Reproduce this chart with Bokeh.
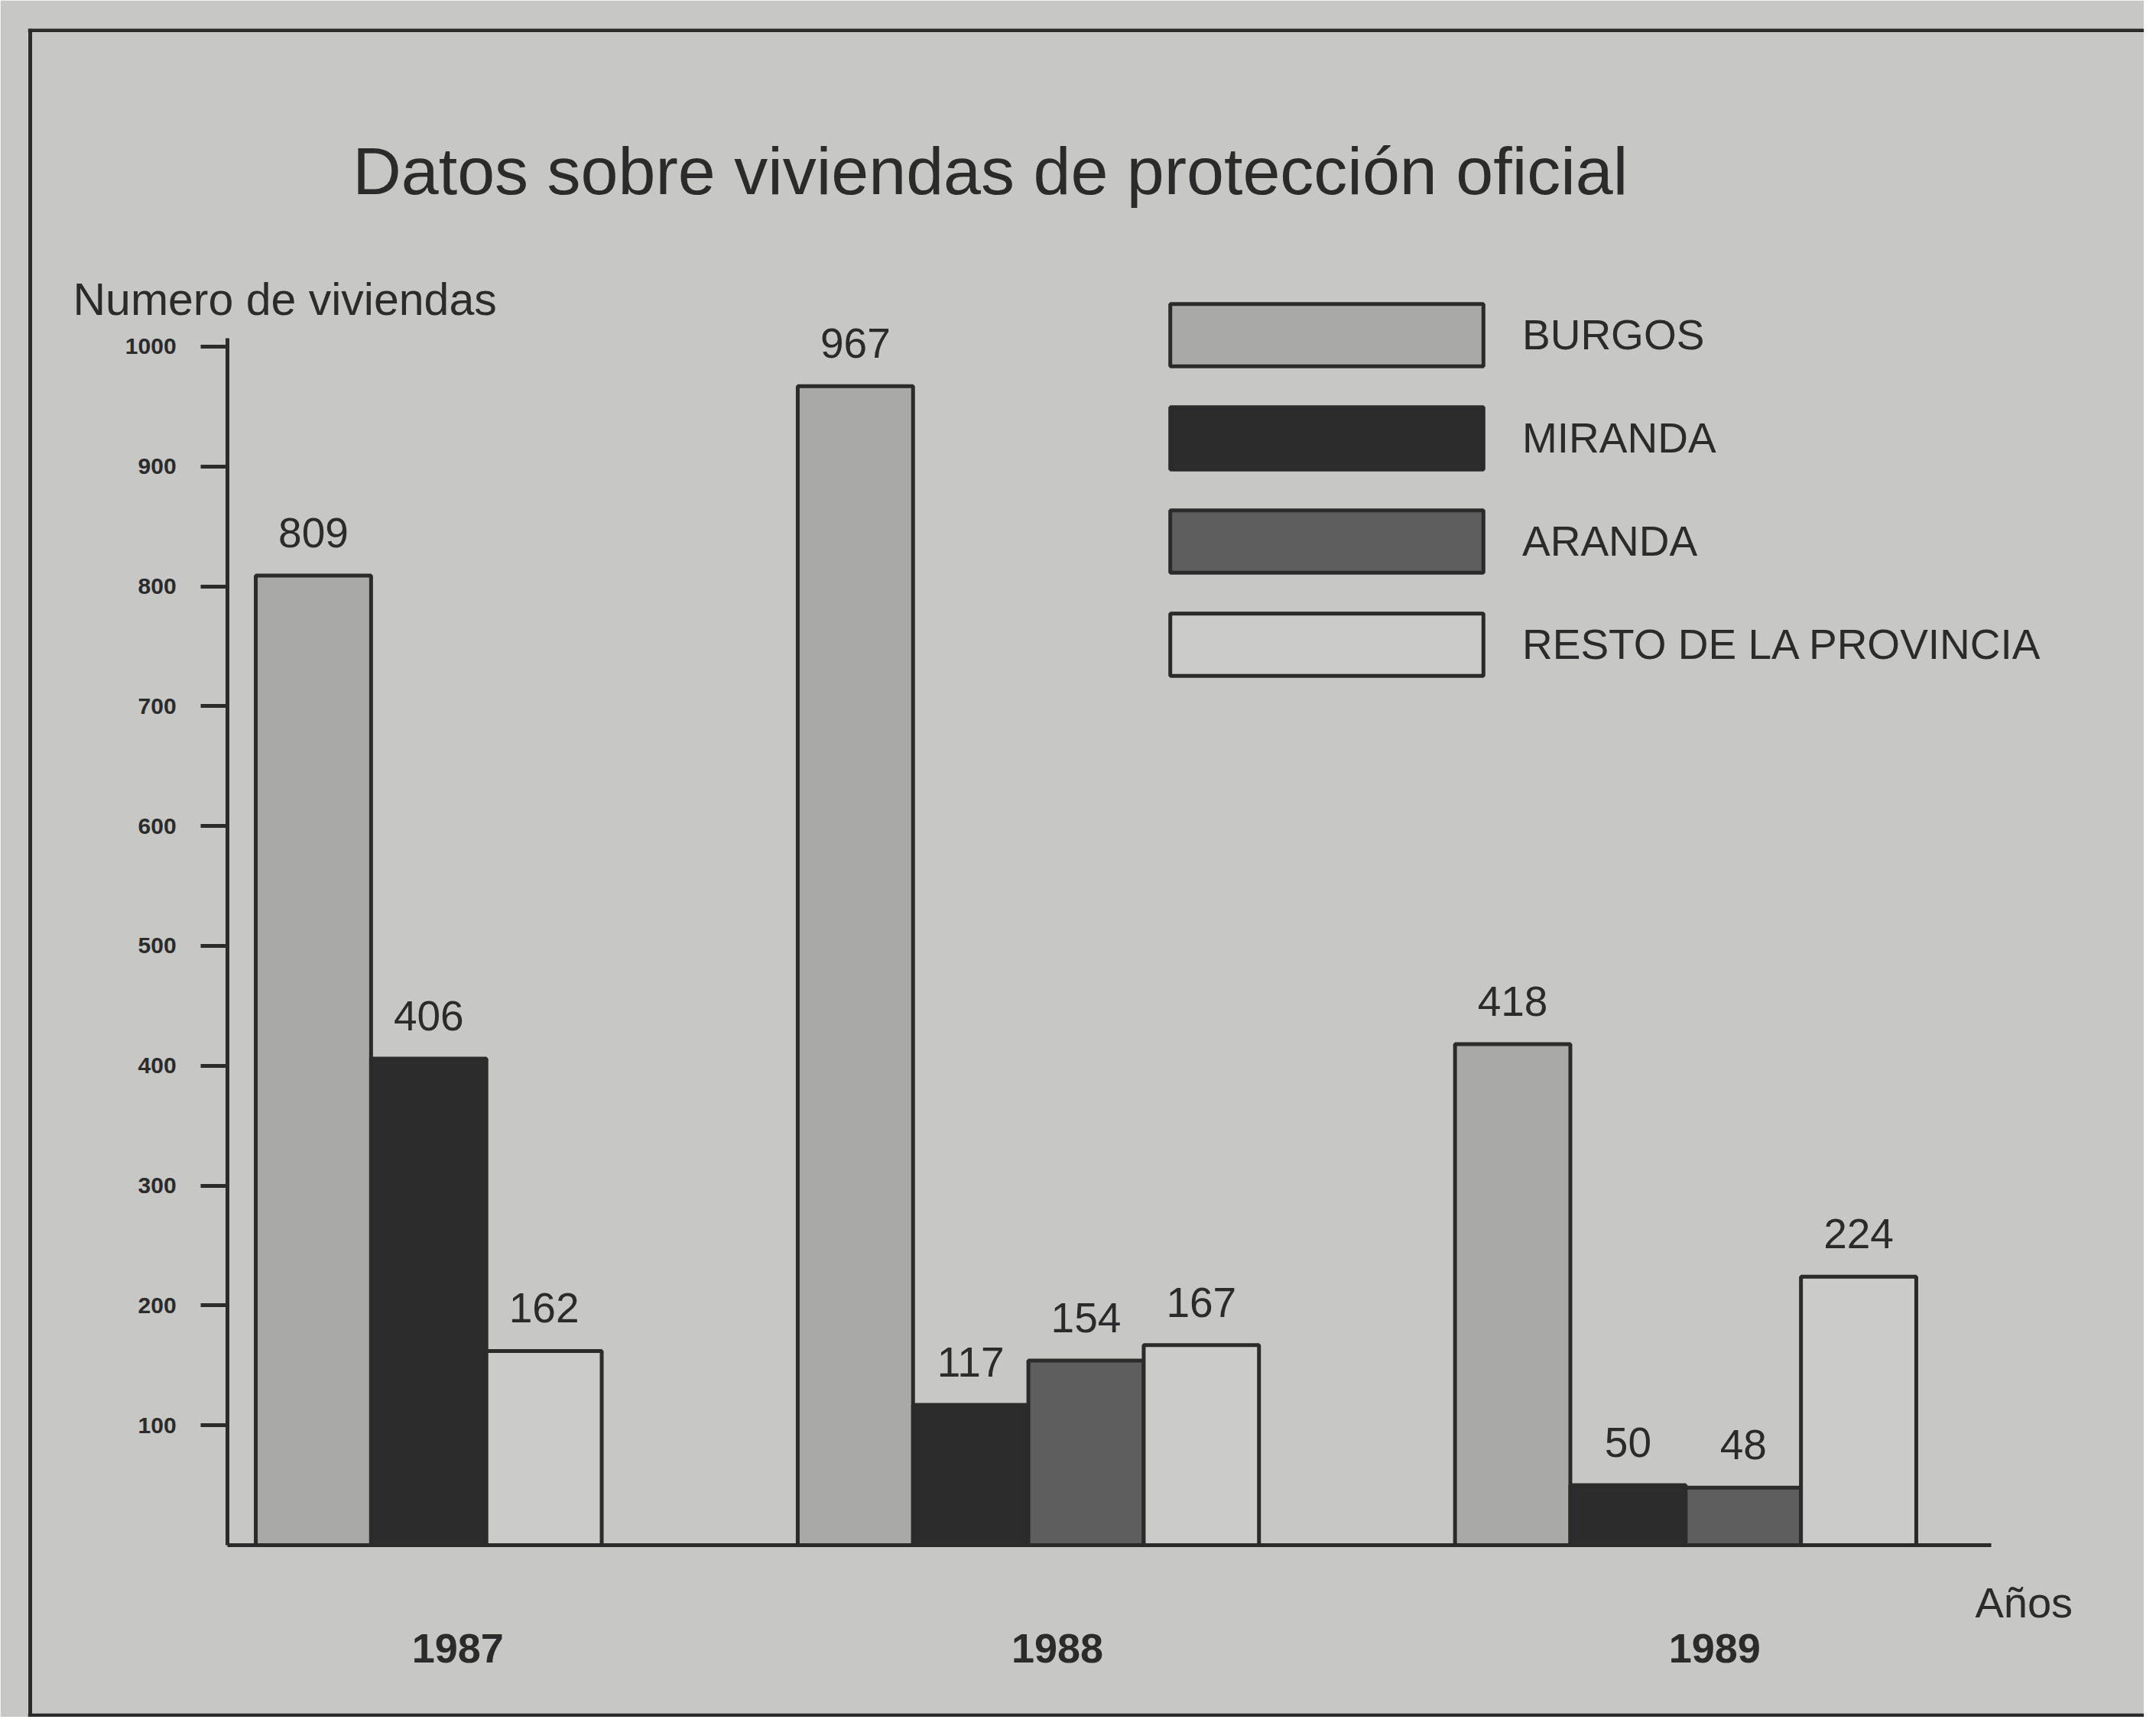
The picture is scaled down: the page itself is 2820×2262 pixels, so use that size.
from bokeh.plotting import figure
from bokeh.models import (FactorRange, Range1d, LinearAxis, CategoricalAxis, FixedTicker,
                          Legend, LegendItem, Label, Span)
from bokeh.core.properties import value
from bokeh.embed import file_html
from bokeh.resources import INLINE

# ---------------- data ----------------
years = ["1987", "1988", "1989"]
series = ["BURGOS", "MIRANDA", "ARANDA", "RESTO DE LA PROVINCIA"]
burgos = [809, 967, 418]
miranda = [406, 117, 50]
aranda = [None, 154, 48]
resto = [162, 167, 224]
yticks = [100, 200, 300, 400, 500, 600, 700, 800, 900, 1000]

title_text = "Datos sobre viviendas de protección oficial"
ylabel_text = "Numero de viviendas"
xlabel_text = "Años"

# ---------------- styles ----------------
PAPER = "#c7c7c5"
INK = "#2b2b2b"
fills = {"BURGOS": "#a9a9a7", "MIRANDA": "#2c2c2c", "ARANDA": "#5e5e5e",
         "RESTO DE LA PROVINCIA": "#cbcbc9"}
SANS = "Liberation Sans"

values = {"BURGOS": burgos, "MIRANDA": miranda, "ARANDA": aranda,
          "RESTO DE LA PROVINCIA": resto}

factors = [(y, s) for i, y in enumerate(years) for s in series if values[s][i] is not None]

x_range = FactorRange(*factors, factor_padding=0, group_padding=1.7,
                      range_padding=1.976, range_padding_units="absolute")

p = figure(width=2804, height=2246, x_range=x_range, y_range=Range1d(-143.5, 1265.3),
           output_backend="svg", toolbar_location=None,
           x_axis_location=None, y_axis_location=None,
           min_border_left=36, min_border_right=0, min_border_top=37, min_border_bottom=0,
           background_fill_color=PAPER, border_fill_color=PAPER, outline_line_color=None)
p.grid.visible = False

# y axis
yaxis = LinearAxis(fixed_location=-0.245, bounds=(0, 1007),
                   ticker=FixedTicker(ticks=yticks, minor_ticks=[]),
                   axis_line_color=INK, axis_line_width=5,
                   major_tick_line_color=INK, major_tick_line_width=5,
                   major_tick_out=35, major_tick_in=0,
                   minor_tick_line_color=None,
                   major_label_standoff=32,
                   major_label_text_font=SANS, major_label_text_font_style="bold",
                   major_label_text_font_size="30px", major_label_text_color=INK)
p.add_layout(yaxis, "left")

# x axis (baseline)
xaxis = CategoricalAxis(fixed_location=0, bounds=(-0.245, 15.05),
                        axis_line_color=INK, axis_line_width=5,
                        major_tick_line_color=None, minor_tick_line_color=None,
                        major_label_text_font_size="0px", major_label_text_color=None,
                        group_text_font_size="0px", group_text_color=None,
                        separator_line_color=None)
p.add_layout(xaxis, "below")

# bars
items = []
for s in series:
    xs = [(y, s) for i, y in enumerate(years) if values[s][i] is not None]
    tops = [v for v in values[s] if v is not None]
    r = p.vbar(x=xs, top=tops, bottom=0, width=1.0, fill_color=fills[s],
               line_color=INK, line_width=5)
    items.append(LegendItem(label=s, renderers=[r]))

# value labels
lab_x = [(y, s) for s in series for i, y in enumerate(years) if values[s][i] is not None]
lab_y = [v for s in series for v in values[s] if v is not None]
p.text(x=lab_x, y=lab_y, text=[str(v) for v in lab_y], text_font=value(SANS),
       text_font_size="55px", text_align="center", text_baseline="alphabetic",
       y_offset=-56, text_color=INK)

# year labels
p.text(x=years, y=-86, text=years, text_font=value(SANS), text_font_style="bold",
       text_font_size="54px", text_align="center", text_baseline="alphabetic",
       x_offset=38, text_color=INK)

# legend
legend = Legend(items=items, location=(1443, 1352), orientation="vertical",
                glyph_width=512, glyph_height=102, spacing=33, label_standoff=0,
                padding=0, margin=0, border_line_color=None, background_fill_alpha=0,
                label_text_font=SANS, label_text_font_size="55px",
                label_text_color=INK)
p.add_layout(legend, "center")

# texts
p.add_layout(Label(x=0.84, y=1146.7, text=title_text, text_font=SANS,
                   text_font_size="88px", text_baseline="alphabetic", text_color=INK))
p.add_layout(Label(x=-1.585, y=1039, text=ylabel_text, text_font=SANS,
                   text_font_size="59px", text_baseline="alphabetic", text_color=INK))
p.add_layout(Label(x=14.91, y=-48, text=xlabel_text, text_font=SANS,
                   text_font_size="56px", text_baseline="alphabetic", text_color=INK))

# outer frame lines
p.add_layout(Span(location=1264, dimension="width", line_color=INK, line_width=5))
p.add_layout(Span(location=-142, dimension="width", line_color=INK, line_width=5))
p.add_layout(Span(location=-1.956, dimension="height", line_color=INK, line_width=5))

open("out.html", "w").write(file_html(p, INLINE))
